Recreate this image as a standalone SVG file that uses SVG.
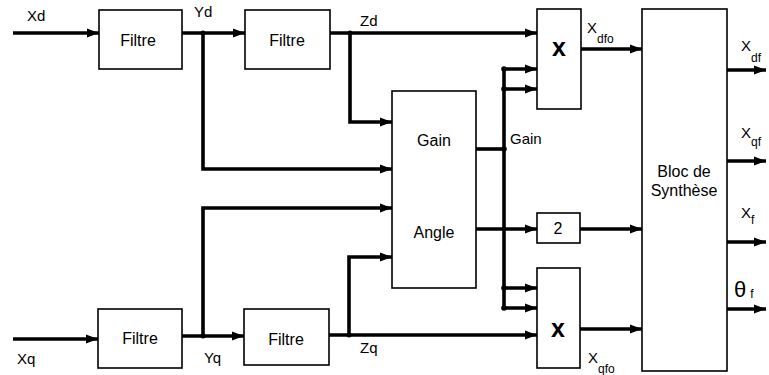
<svg xmlns="http://www.w3.org/2000/svg" width="769" height="375" viewBox="0 0 769 375">
<style>
.box{fill:#fff;stroke:#000;stroke-width:1.6}
.w{fill:none;stroke:#000;stroke-width:3.6;stroke-linejoin:miter}
.wa{fill:none;stroke:#000;stroke-width:3.6;marker-end:url(#ah)}
text{font-family:"Liberation Sans",Arial,sans-serif;fill:#000}
.lbl{font-size:15px}
.in{font-size:16px;text-anchor:middle}
.sub{font-size:12px}
.mul{font-size:25px;font-weight:bold;text-anchor:middle}
.dot{fill:#000}
</style>
<defs>
<marker id="ah" markerUnits="userSpaceOnUse" markerWidth="13" markerHeight="10" refX="12" refY="5" orient="auto">
<path d="M0,0.5 L12,5 L0,9.5 z" fill="#000"/>
</marker>
</defs>
<rect width="769" height="375" fill="#fff"/>

<g id="connectors">
<line class="wa" x1="13" y1="33" x2="99" y2="33"/>
<line class="wa" x1="182" y1="33" x2="245" y2="33"/>
<line class="wa" x1="330" y1="33" x2="537" y2="33"/>
<polyline class="wa" points="350,33 350,122 392,122"/>
<polyline class="wa" points="203,33 203,169 392,169"/>
<line class="wa" x1="13" y1="339" x2="98" y2="339"/>
<line class="wa" x1="182" y1="336" x2="244" y2="336"/>
<line class="wa" x1="329" y1="335" x2="537" y2="335"/>
<polyline class="wa" points="203,336 203,208 392,208"/>
<polyline class="wa" points="349,335 349,257 392,257"/>
<line class="w" x1="476" y1="149" x2="504" y2="149"/>
<line class="w" x1="504" y1="67" x2="504" y2="310"/>
<line class="wa" x1="504" y1="69" x2="537" y2="69"/>
<line class="wa" x1="504" y1="89" x2="537" y2="89"/>
<line class="wa" x1="504" y1="288" x2="537" y2="288"/>
<line class="wa" x1="504" y1="308" x2="537" y2="308"/>
<line class="wa" x1="476" y1="229" x2="537" y2="229"/>
<line class="wa" x1="581" y1="49" x2="642" y2="49"/>
<line class="wa" x1="580" y1="229" x2="642" y2="229"/>
<line class="wa" x1="580" y1="329" x2="642" y2="329"/>
<line class="wa" x1="727" y1="70" x2="766" y2="70"/>
<line class="wa" x1="727" y1="161" x2="766" y2="161"/>
<line class="wa" x1="727" y1="242" x2="766" y2="242"/>
<line class="wa" x1="727" y1="309" x2="766" y2="309"/>
<circle class="dot" cx="203" cy="33" r="2.5"/>
<circle class="dot" cx="350" cy="33" r="2.5"/>
<circle class="dot" cx="203" cy="336" r="2.5"/>
<circle class="dot" cx="349" cy="335" r="2.5"/>
<circle class="dot" cx="504" cy="69" r="2.8"/>
<circle class="dot" cx="504" cy="89" r="2.8"/>
<circle class="dot" cx="504" cy="149" r="2.8"/>
<circle class="dot" cx="504" cy="288" r="2.8"/>
<circle class="dot" cx="504" cy="308" r="2.8"/>
</g>

<g id="labels">
<text class="lbl" x="27" y="21">Xd</text>
<text class="lbl" x="194" y="17">Yd</text>
<text class="lbl" x="360" y="26">Zd</text>
<text class="lbl" x="17" y="364">Xq</text>
<text class="lbl" x="204" y="363">Yq</text>
<text class="lbl" x="360" y="353">Zq</text>
<text class="lbl" x="510" y="144">Gain</text>
<text x="587" y="33" font-size="15">X<tspan class="sub" dy="10">dfo</tspan></text>
<text x="588" y="363" font-size="15">X<tspan class="sub" dy="10">qfo</tspan></text>
<text x="741" y="51" font-size="15">X<tspan class="sub" dy="11">df</tspan></text>
<text x="741" y="138" font-size="15">X<tspan class="sub" dy="8">qf</tspan></text>
<text x="741" y="218" font-size="15">X<tspan class="sub" dy="6">f</tspan></text>
<text x="734" y="297" font-size="22">θ<tspan class="sub" dx="4" dy="1">f</tspan></text>
</g>

<g id="filtre-xd"><rect class="box" x="99" y="10" width="83" height="59"/><text class="in" x="138" y="46">Filtre</text></g>
<g id="filtre-yd"><rect class="box" x="245" y="10" width="85" height="59"/><text class="in" x="287" y="46">Filtre</text></g>
<g id="filtre-xq"><rect class="box" x="98" y="309" width="84" height="59"/><text class="in" x="140" y="344">Filtre</text></g>
<g id="filtre-yq"><rect class="box" x="244" y="309" width="85" height="56"/><text class="in" x="286" y="345">Filtre</text></g>
<g id="gain-angle"><rect class="box" x="392" y="91" width="84" height="197"/><text class="in" x="434" y="146">Gain</text><text class="in" x="434" y="238">Angle</text></g>
<g id="mult-d"><rect class="box" x="537" y="9" width="44" height="100"/><text class="mul" x="559" y="56">x</text></g>
<g id="gain2"><rect class="box" x="537" y="213" width="43" height="30"/><text class="in" x="558" y="234">2</text></g>
<g id="mult-q"><rect class="box" x="537" y="268" width="43" height="100"/><text class="mul" x="558" y="337">x</text></g>
<g id="synthese"><rect class="box" x="642" y="9" width="85" height="362"/><text class="in" x="684" y="177">Bloc de</text><text class="in" x="684" y="196">Synthèse</text></g>
</svg>
